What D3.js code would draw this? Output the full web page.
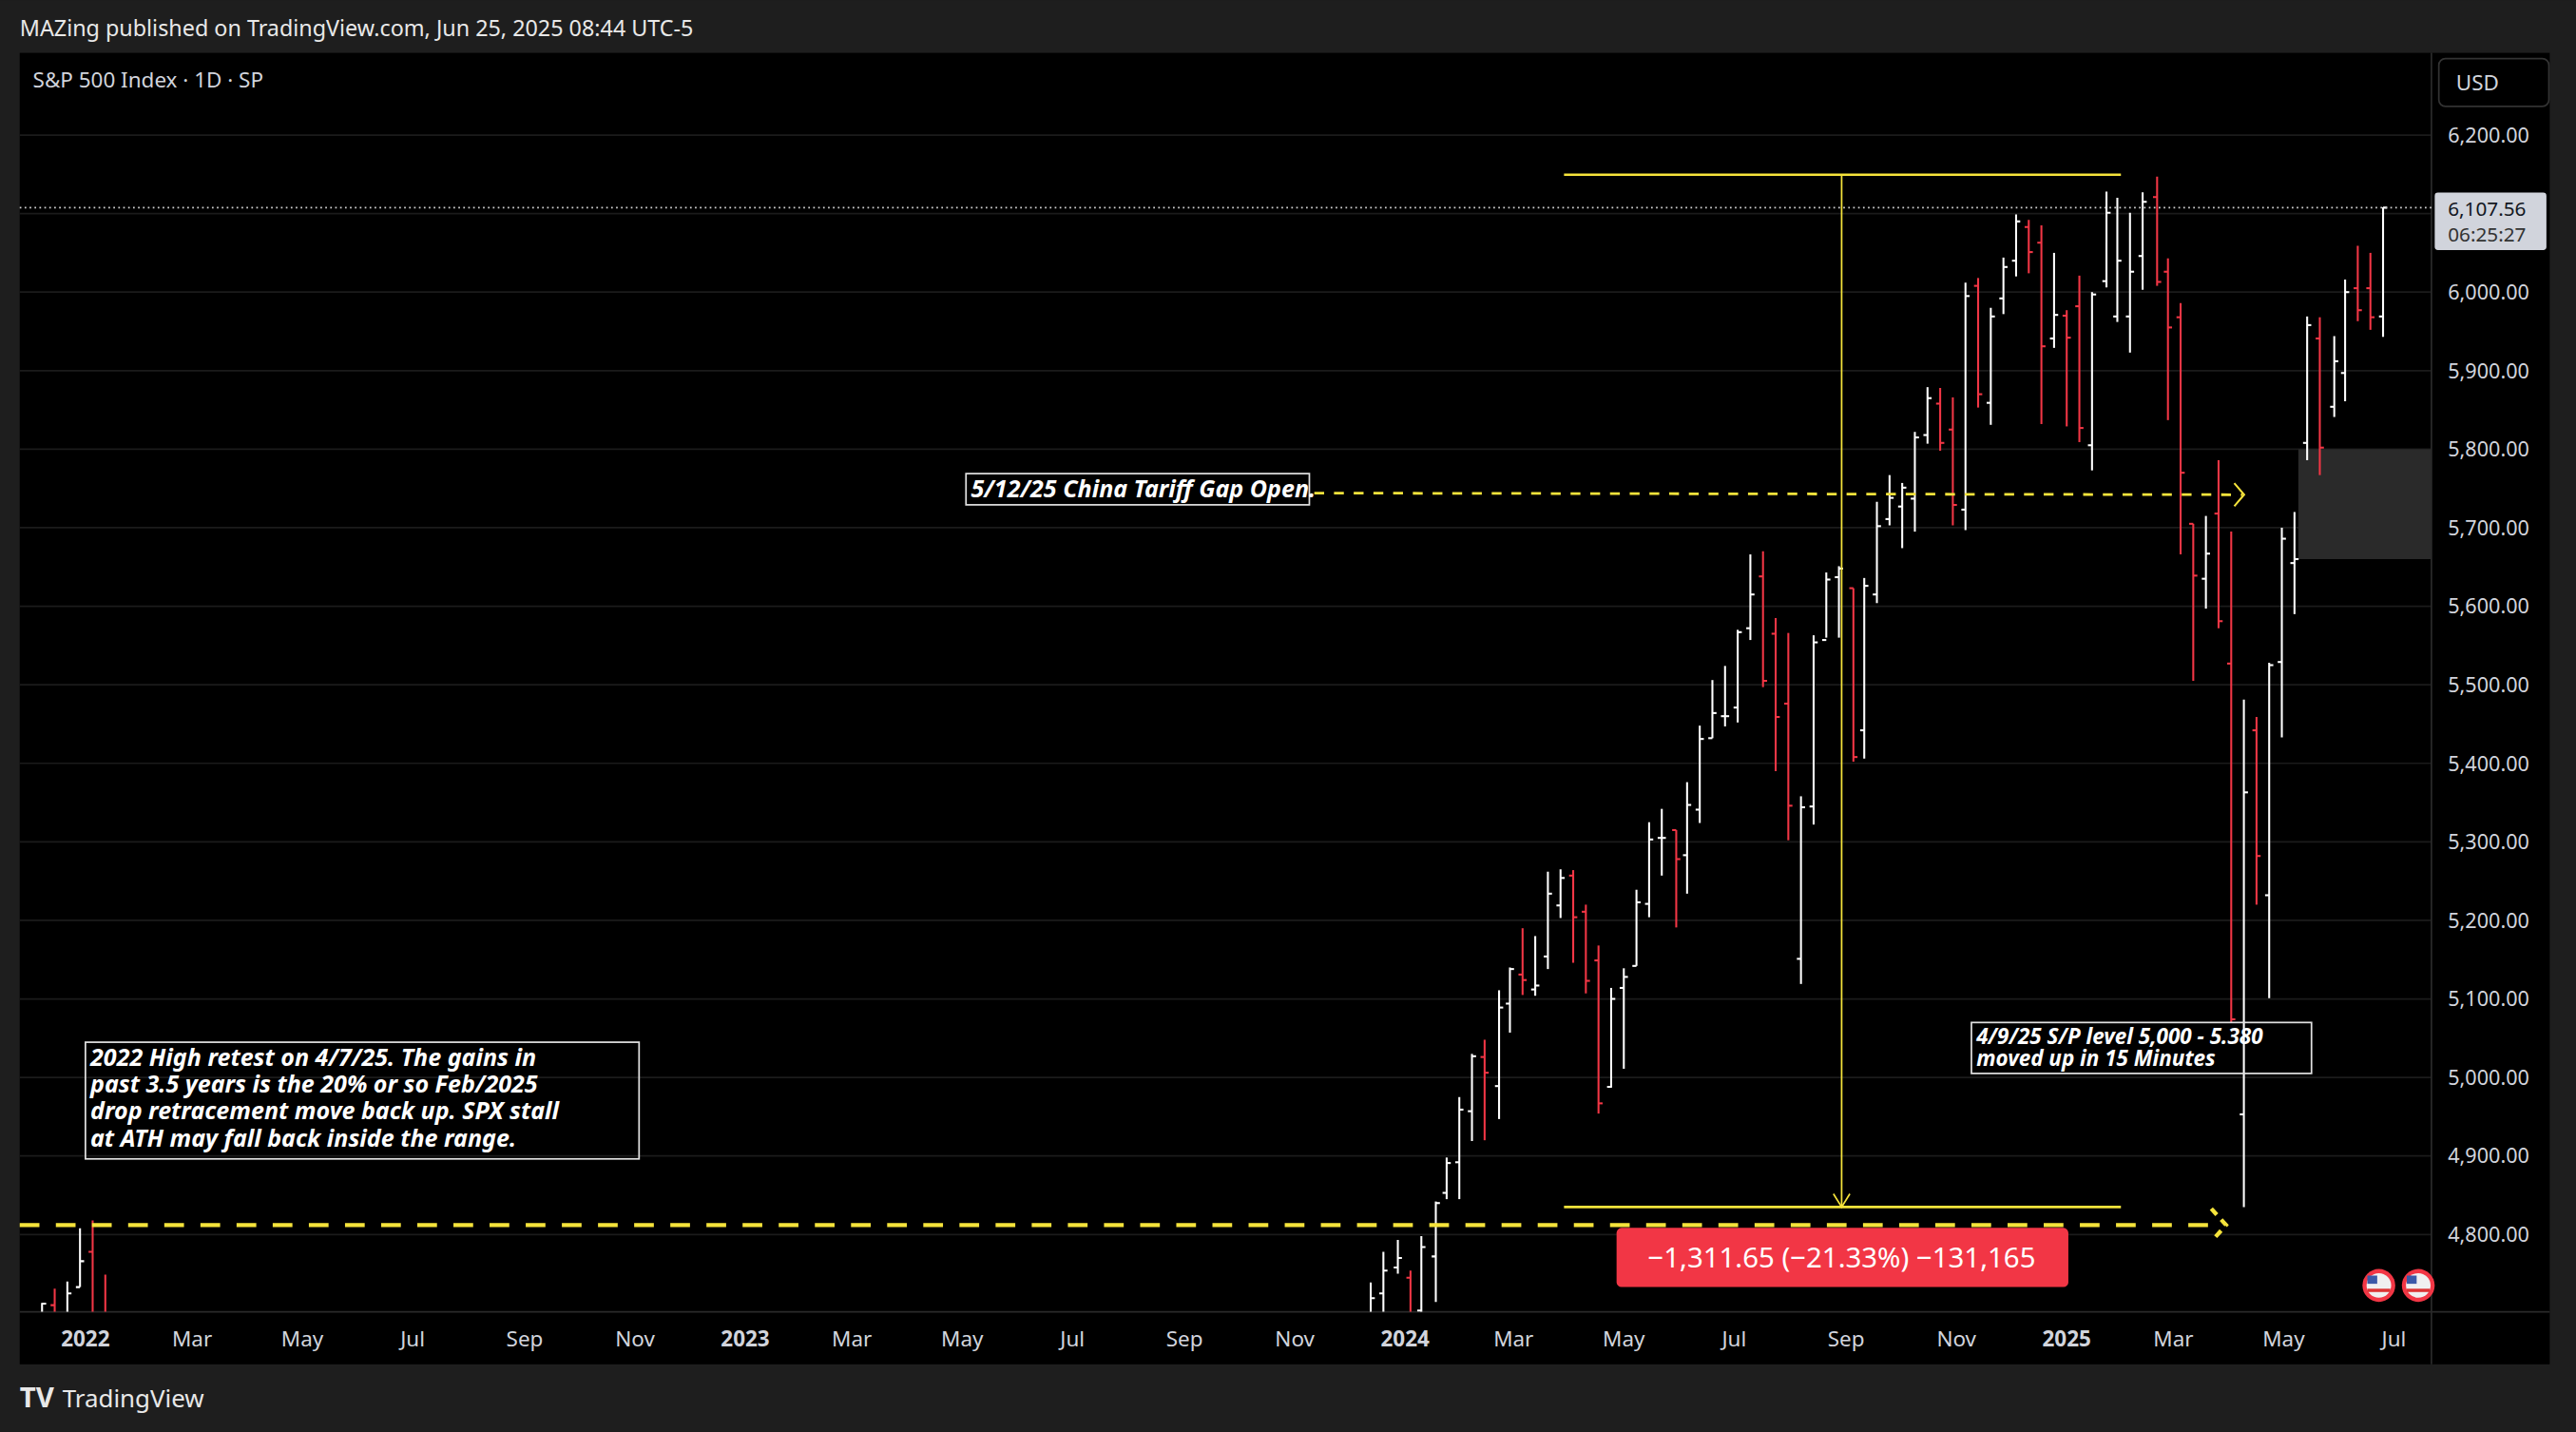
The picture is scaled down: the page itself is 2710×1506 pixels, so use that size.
<!DOCTYPE html>
<html><head><meta charset="utf-8">
<script src="https://cdn.jsdelivr.net/npm/d3@7"></script>
<style>html,body{margin:0;padding:0;background:#1e1e1e;overflow:hidden}</style>
</head><body>
<svg id="c" width="2710" height="1506" viewBox="0 0 1568 871"></svg>
<script>
// Weekly OHLC: week start, open, high, low, close
const weeks = ["2021-11-22","2021-11-29","2021-12-06","2021-12-13","2021-12-20","2021-12-27","2022-01-03","2022-01-10","2022-01-18",
"2023-11-27","2023-12-04","2023-12-11","2023-12-18","2023-12-26",
"2024-01-02","2024-01-08","2024-01-16","2024-01-22","2024-01-29","2024-02-05","2024-02-12","2024-02-20","2024-02-26",
"2024-03-04","2024-03-11","2024-03-18","2024-03-25","2024-04-01","2024-04-08","2024-04-15","2024-04-22","2024-04-29",
"2024-05-06","2024-05-13","2024-05-20","2024-05-28","2024-06-03","2024-06-10","2024-06-17","2024-06-24","2024-07-01",
"2024-07-08","2024-07-15","2024-07-22","2024-07-29","2024-08-05","2024-08-12","2024-08-19","2024-08-26","2024-09-03",
"2024-09-09","2024-09-16","2024-09-23","2024-09-30","2024-10-07","2024-10-14","2024-10-21","2024-10-28","2024-11-04",
"2024-11-11","2024-11-18","2024-11-25","2024-12-02","2024-12-09","2024-12-16","2024-12-23","2024-12-30","2025-01-06",
"2025-01-13","2025-01-21","2025-01-27","2025-02-03","2025-02-10","2025-02-18","2025-02-24","2025-03-03","2025-03-10",
"2025-03-17","2025-03-24","2025-03-31","2025-04-07","2025-04-14","2025-04-21","2025-04-28","2025-05-05","2025-05-12",
"2025-05-19","2025-05-27","2025-06-02","2025-06-09","2025-06-16","2025-06-23"];
const opens = [4700,4690,4600,4710,4650,4733,4778,4669,4632,
4555,4569,4606,4725,4758,
4745,4703,4772,4853,4892,4957,5026,4989,5094,
5131,5112,5154,5219,5257,5211,5149,4988,5114,
5142,5221,5305,5315,5283,5341,5432,5460,5471,
5572,5638,5565,5476,5151,5345,5557,5637,5623,
5442,5615,5711,5727,5737,5818,5858,5825,5723,
6008,5859,5992,6040,6083,6063,5941,5970,5982,
5805,6014,5969,5969,6046,6121,6026,5968,5705,
5635,5718,5527,4953,5442,5232,5529,5655,5808,
5941,5854,5897,6005,6005,5969];
const highs = [4743,4652,4713,4731,4740,4808,4818,4749,4632,
4600,4609,4739,4778,4793,
4754,4798,4842,4898,4975,5030,5048,5111,5140,
5190,5180,5262,5265,5264,5220,5168,5114,5139,
5239,5325,5342,5315,5376,5448,5506,5524,5570,
5666,5670,5585,5566,5358,5563,5643,5651,5623,
5636,5733,5767,5757,5822,5879,5878,5866,6012,
6018,5980,6044,6099,6092,6085,6050,5977,6021,
6000,6128,6120,6101,6127,6147,6043,5986,5705,
5715,5786,5695,5481,5459,5528,5700,5720,5969,
5968,5944,6016,6059,6050,6108];
const lows = [4652,4495,4600,4600,4532,4733,4662,4582,4395,
4537,4546,4600,4700,4750,
4682,4682,4714,4845,4845,4919,4920,4947,5057,
5105,5104,5138,5203,5146,5107,4954,4987,5011,
5142,5204,5257,5191,5234,5324,5432,5447,5452,
5557,5497,5390,5302,5119,5322,5560,5560,5402,
5406,5604,5703,5674,5695,5807,5798,5703,5697,
5853,5831,5972,6020,6024,5832,5929,5829,5809,
5773,6006,5962,5923,6003,6008,5837,5666,5505,
5597,5572,5069,4835,5220,5101,5433,5590,5786,
5767,5841,5861,5963,5952,5943];
const closes = [4655,4538,4712,4620,4725,4766,4677,4663,4398,
4594,4604,4719,4754,4770,
4697,4784,4840,4891,4959,5027,5006,5089,5138,
5124,5117,5234,5254,5204,5123,4967,5100,5128,
5223,5303,5305,5278,5347,5431,5464,5460,5567,
5615,5505,5459,5346,5344,5554,5634,5648,5408,
5626,5702,5738,5751,5815,5865,5808,5729,5995,
5870,5969,6032,6090,6051,5931,5971,5942,5827,
5997,6101,6040,6026,6115,6013,5955,5770,5639,
5667,5581,5074,5363,5282,5525,5686,5660,5958,
5802,5912,6000,5977,5968,6107.56];
const yTicks = [4800,4900,5000,5100,5200,5300,5400,5500,5600,5700,5800,5900,6000,6100,6200];
const xTickDates = ["2022-01-01","2022-03-01","2022-05-01","2022-07-01","2022-09-01","2022-11-01","2023-01-01","2023-03-01","2023-05-01","2023-07-01","2023-09-01","2023-11-01","2024-01-01","2024-03-01","2024-05-01","2024-07-01","2024-09-01","2024-11-01","2025-01-01","2025-03-01","2025-05-01","2025-07-01"];
const xTickLabels = ["2022","Mar","May","Jul","Sep","Nov","2023","Mar","May","Jul","Sep","Nov","2024","Mar","May","Jul","Sep","Nov","2025","Mar","May","Jul"];
const lastPrice = 6107.56;
const athHigh = 6147.43, aprLow = 4835.04, high2022 = 4812;
const gapTop = 5800, gapBottom = 5660, gapLine = 5742;

const P = d3.timeParse("%Y-%m-%d");
const svg = d3.select("#c");
const font = "'Noto Sans', 'Liberation Sans', sans-serif";
const L=12, R=1480, T=32, B=830;
svg.append("rect").attr("width",1568).attr("height",871).attr("fill","#1e1e1e");
svg.append("rect").attr("x",L).attr("y",T).attr("width",1540).attr("height",B-T).attr("fill","#000");
const x = d3.scaleTime().domain([P("2022-01-01"),P("2025-01-01")]).range([52,1258]);
const y = d3.scaleLinear().domain([4800,6200]).range([751,82]);
const defs = svg.append("defs");
defs.append("clipPath").attr("id","pc").append("rect").attr("x",L).attr("y",T).attr("width",R-L).attr("height",798-T);

svg.append("g").selectAll("line").data(yTicks).join("line")
 .attr("x1",L).attr("x2",R).attr("y1",d=>y(d)).attr("y2",d=>y(d)).attr("stroke","#1b1b1b").attr("stroke-width",1);
svg.append("line").attr("x1",L).attr("x2",1552).attr("y1",798).attr("y2",798).attr("stroke","#2a2a2a");
svg.append("line").attr("x1",R).attr("x2",R).attr("y1",T).attr("y2",B).attr("stroke","#2a2a2a");

svg.append("rect").attr("x",1399).attr("width",R-1399).attr("y",y(gapTop)).attr("height",y(gapBottom)-y(gapTop)).attr("fill","#2a2a2a");

const data = weeks.map((w,i)=>({d:P(w),o:opens[i],h:highs[i],l:lows[i],c:closes[i]}));
const g = svg.append("g").attr("clip-path","url(#pc)");
const day = 86400000;
data.forEach(b=>{
  const xc = x(new Date(+b.d+2*day)), col = b.c>=b.o?"#ffffff":"#f23645";
  g.append("line").attr("x1",xc).attr("x2",xc).attr("y1",y(b.h)).attr("y2",y(b.l)).attr("stroke",col).attr("stroke-width",1.2);
  g.append("line").attr("x1",xc-2.5).attr("x2",xc).attr("y1",y(b.o)).attr("y2",y(b.o)).attr("stroke",col).attr("stroke-width",1.2);
  g.append("line").attr("x1",xc).attr("x2",xc+2.5).attr("y1",y(b.c)).attr("y2",y(b.c)).attr("stroke",col).attr("stroke-width",1.2);
});

svg.append("line").attr("x1",L).attr("x2",R).attr("y1",y(lastPrice)).attr("y2",y(lastPrice)).attr("stroke","#cfcfcf").attr("stroke-dasharray","1,2").attr("stroke-width",1);

const yel="#f5e33b";
svg.append("line").attr("x1",L).attr("x2",1352).attr("y1",y(high2022)).attr("y2",y(high2022)).attr("stroke",yel).attr("stroke-width",2.5).attr("stroke-dasharray","12,10");
svg.append("path").attr("d",`M1346,${y(high2022)-10}L1355,${y(high2022)}L1346,${y(high2022)+10}`).attr("fill","none").attr("stroke",yel).attr("stroke-width",2.5).attr("stroke-dasharray","5,4");
svg.append("line").attr("x1",800).attr("x2",1365).attr("y1",y(gapLine)-1).attr("y2",y(gapLine)).attr("stroke",yel).attr("stroke-width",1.6).attr("stroke-dasharray","6,6");
svg.append("path").attr("d",`M1360,${y(gapLine)-7}L1366,${y(gapLine)}L1360,${y(gapLine)+7}`).attr("fill","none").attr("stroke",yel).attr("stroke-width",1.2);

const ya=y(athHigh)-1, yb=y(aprLow);
svg.append("line").attr("x1",952).attr("x2",1291).attr("y1",ya).attr("y2",ya).attr("stroke",yel).attr("stroke-width",1.5);
svg.append("line").attr("x1",952).attr("x2",1291).attr("y1",yb).attr("y2",yb).attr("stroke",yel).attr("stroke-width",1.5);
svg.append("line").attr("x1",1121).attr("x2",1121).attr("y1",ya).attr("y2",yb).attr("stroke",yel).attr("stroke-width",1);
svg.append("path").attr("d",`M1116,${yb-8}L1121,${yb}L1126,${yb-8}`).attr("fill","none").attr("stroke",yel).attr("stroke-width",1);
svg.append("rect").attr("x",984).attr("y",747).attr("width",275).attr("height",36).attr("rx",3).attr("fill","#f23645");
svg.append("text").attr("x",1121).attr("y",771).attr("text-anchor","middle").attr("fill","#fff").attr("font-family",font).attr("font-size",17)
 .text("\u22121,311.65 (\u221221.33%) \u2212131,165");

function note(x0,y0,w,h,lines,lh,fs){
  svg.append("rect").attr("x",x0).attr("y",y0).attr("width",w).attr("height",h).attr("fill","none").attr("stroke","#e0e0e0").attr("stroke-width",1);
  lines.forEach((t,i)=>svg.append("text").attr("x",x0+3).attr("y",y0+fs+i*lh).attr("fill","#fff").attr("font-family",font)
    .attr("font-size",fs).attr("font-style","italic").attr("font-weight","bold").text(t));
}
note(588,288,209,19,["5/12/25 China Tariff Gap Open."],16,14.5);
note(52,634,337,71,["2022 High retest on 4/7/25. The gains in","past 3.5 years is the 20% or so Feb/2025","drop retracement move back up. SPX stall","at ATH may fall back inside the range."],16.3,14.5);
note(1200,622,207,31,["4/9/25 S/P level 5,000 - 5.380","moved up in 15 Minutes"],13.5,13);

svg.append("g").selectAll("text").data(yTicks).join("text").attr("x",1490).attr("y",d=>y(d)+4.5)
 .attr("fill","#d1d4dc").attr("font-family",font).attr("font-size",12.5).text(d=>d3.format(",.2f")(d));
svg.append("rect").attr("x",1482).attr("y",117).attr("width",68).attr("height",35).attr("rx",2).attr("fill","#d1d4dc");
svg.append("text").attr("x",1490).attr("y",131).attr("fill","#131722").attr("font-family",font).attr("font-size",12).text(d3.format(",.2f")(lastPrice));
svg.append("text").attr("x",1490).attr("y",147).attr("fill","#333").attr("font-family",font).attr("font-size",12).text("06:25:27");
svg.append("rect").attr("x",1484.5).attr("y",35.5).attr("width",67).attr("height",29).attr("rx",4).attr("fill","#000").attr("stroke","#333");
svg.append("text").attr("x",1495).attr("y",55).attr("fill","#d1d4dc").attr("font-family",font).attr("font-size",13).text("USD");

svg.append("g").selectAll("text").data(xTickDates).join("text").attr("x",d=>x(P(d))).attr("y",819).attr("text-anchor","middle")
 .attr("fill","#d1d4dc").attr("font-family",font).attr("font-size",13)
 .attr("font-weight",(d,i)=>/^\d{4}$/.test(xTickLabels[i])?"bold":"normal").text((d,i)=>xTickLabels[i]);

[1448,1472].forEach(cx=>{
  svg.append("circle").attr("cx",cx).attr("cy",782).attr("r",10).attr("fill","#f23645");
  svg.append("circle").attr("cx",cx).attr("cy",782).attr("r",7.5).attr("fill","#f0f0f0");
  svg.append("rect").attr("x",cx-7).attr("y",776).attr("width",6).attr("height",5).attr("fill","#3c5aa8");
  svg.append("rect").attr("x",cx-7).attr("y",784).attr("width",14).attr("height",2).attr("fill","#d33");
});

svg.append("text").attr("x",12).attr("y",22).attr("fill","#e8e8e8").attr("font-family",font).attr("font-size",13.5).text("MAZing published on TradingView.com, Jun 25, 2025 08:44 UTC-5");
svg.append("text").attr("x",20).attr("y",53).attr("fill","#d1d4dc").attr("font-family",font).attr("font-size",13).text("S&P 500 Index \u00b7 1D \u00b7 SP");
svg.append("text").attr("x",12).attr("y",856).attr("fill","#e8e8e8").attr("font-family",font).attr("font-size",17).attr("font-weight","bold").text("TV");
svg.append("text").attr("x",38).attr("y",856).attr("fill","#e8e8e8").attr("font-family",font).attr("font-size",15).text("TradingView");
</script>
</body></html>
